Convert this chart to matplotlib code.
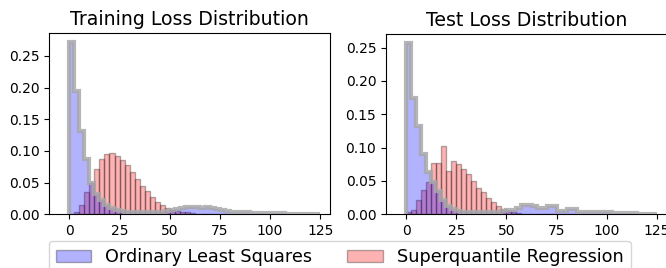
import numpy as np
import matplotlib
matplotlib.use("Agg")
import matplotlib.pyplot as plt
from matplotlib.patches import Patch

# histogram bins (loss value), width 2.5
BIN_EDGES = np.arange(0, 127.5, 2.5)

# fraction of samples per bin
ols_train = [
    0.272, 0.195, 0.132, 0.088, 0.050, 0.032, 0.023, 0.015, 0.010, 0.007,
    0.005, 0.004, 0.003, 0.003, 0.003, 0.003, 0.003, 0.003, 0.004, 0.005,
    0.006, 0.008, 0.010, 0.012, 0.012, 0.011, 0.010, 0.011, 0.010, 0.008,
    0.007, 0.005, 0.004, 0.003, 0.003, 0.003, 0.002, 0.002, 0.002, 0.002,
    0.0015, 0.0015, 0.0015, 0.001, 0.001, 0.001, 0.001, 0.001, 0.001, 0.001,
]
sq_train = [
    0.001, 0.004, 0.015, 0.035, 0.050, 0.072, 0.088, 0.095, 0.097, 0.092,
    0.086, 0.078, 0.066, 0.055, 0.045, 0.036, 0.028, 0.020, 0.014, 0.010,
    0.007, 0.005, 0.004, 0.003, 0.002, 0.001, 0.001, 0, 0, 0,
    0, 0, 0, 0, 0, 0, 0, 0, 0, 0,
    0, 0, 0, 0, 0, 0, 0, 0, 0, 0,
]
ols_test = [
    0.257, 0.175, 0.133, 0.090, 0.064, 0.048, 0.035, 0.022, 0.013, 0.008,
    0.005, 0.004, 0.004, 0.003, 0.003, 0.003, 0.003, 0.003, 0.004, 0.005,
    0.006, 0.007, 0.010, 0.014, 0.014, 0.013, 0.010, 0.010, 0.012, 0.012,
    0.005, 0.005, 0.008, 0.008, 0.004, 0.004, 0.004, 0.003, 0.003, 0.003,
    0.003, 0.002, 0.002, 0.002, 0.0015, 0.0015, 0.001, 0.001, 0.001, 0.001,
]
sq_test = [
    0.003, 0.006, 0.021, 0.036, 0.049, 0.077, 0.077, 0.103, 0.065, 0.080,
    0.075, 0.068, 0.060, 0.050, 0.040, 0.033, 0.025, 0.018, 0.012, 0.008,
    0.005, 0.003, 0.002, 0.001, 0, 0, 0, 0, 0, 0,
    0, 0, 0, 0, 0, 0, 0, 0, 0, 0,
    0, 0, 0, 0, 0, 0, 0, 0, 0, 0,
]

TITLES = ["Training Loss Distribution", "Test Loss Distribution"]
LABELS = ["Ordinary Least Squares", "Superquantile Regression"]
XTICKS = [0, 25, 50, 75, 100, 125]

BLUE = (0, 0, 1, 0.3)
RED = (1, 0, 0, 0.3)
EDGE = (0.0, 0.0, 0.0, 0.3)
OUTLINE = (0.66, 0.66, 0.66, 0.85)


def draw_panel(ax, ols, sq, title):
    """Superquantile as bars, least squares as a filled step on top."""
    centers = BIN_EDGES[:-1] + 1.25
    ax.hist(centers, bins=BIN_EDGES, weights=sq, facecolor=RED,
            edgecolor=EDGE, linewidth=1, zorder=1)
    ax.hist(centers, bins=BIN_EDGES, weights=ols, histtype="stepfilled",
            facecolor=BLUE, edgecolor="none", zorder=2)
    ax.hist(centers, bins=BIN_EDGES, weights=ols, histtype="step",
            color=OUTLINE, linewidth=3, zorder=3)
    ax.set_xlim(-10, 130)
    ax.set_xticks(XTICKS)
    ax.tick_params(labelsize=10)
    ax.set_title(title, fontsize=13.6)


fig = plt.figure(figsize=(6.66, 2.68), dpi=100)
ax1 = fig.add_axes([0.074, 0.2004, 0.4219, 0.675])
ax2 = fig.add_axes([0.5796, 0.2004, 0.4219, 0.6716])

draw_panel(ax1, ols_train, sq_train, TITLES[0])
draw_panel(ax2, ols_test, sq_test, TITLES[1])

handles = [
    Patch(facecolor=BLUE, edgecolor=EDGE, linewidth=1),
    Patch(facecolor=RED, edgecolor=EDGE, linewidth=1),
]
fig.legend(handles, LABELS, loc="upper center", ncol=2, fontsize=12.7,
           bbox_to_anchor=(0.51, 1 - 232 / 268))

fig.savefig("out.png", dpi=100)
